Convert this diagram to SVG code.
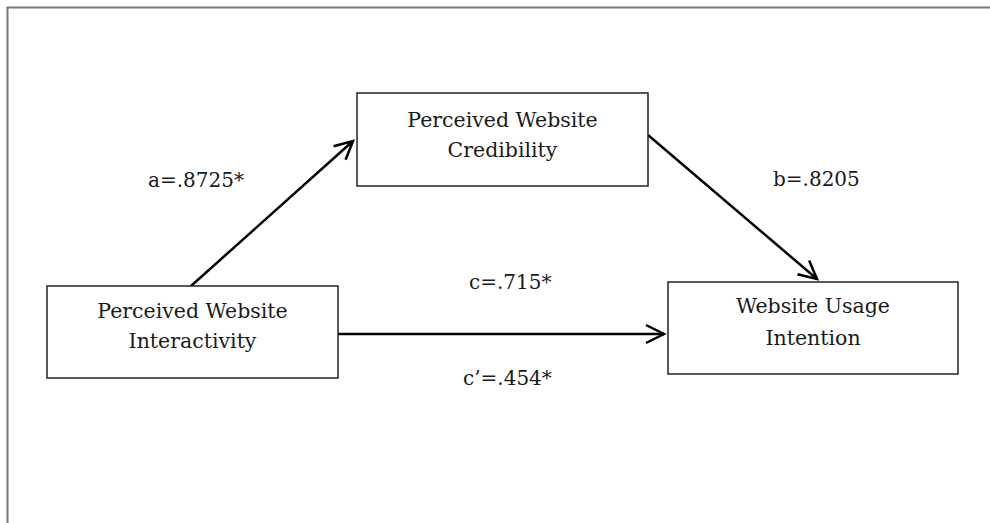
<svg xmlns="http://www.w3.org/2000/svg" width="990" height="523" viewBox="0 0 990 523">
<defs>
<style>
.box{fill:#fff;stroke:#222;stroke-width:1.5}
.t{font-family:"DejaVu Serif","Liberation Serif",serif;font-size:20.5px;fill:#1a1a1a;text-anchor:middle}
.lbl{font-family:"DejaVu Serif","Liberation Serif",serif;font-size:20px;fill:#1a1a1a}
.edge{stroke:#000;stroke-width:2.5;fill:none}
</style>
<marker id="arr" viewBox="-22 -12 26 24" refX="0" refY="0" markerWidth="26" markerHeight="24" markerUnits="userSpaceOnUse" orient="auto">
<path d="M-18,-9 L0,0 L-18,9" fill="none" stroke="#000" stroke-width="2.5" stroke-linejoin="miter"/>
</marker>
</defs>
<rect width="990" height="523" fill="#fff"/>
<path d="M7.5,523 V7.5 H990" fill="none" stroke="#777" stroke-width="2"/>
<g id="connectors">
<path class="edge" d="M191,286 L353,141" marker-end="url(#arr)"/>
<path class="edge" d="M648,135 L817,279" marker-end="url(#arr)"/>
<path class="edge" d="M338,334 L664,334" marker-end="url(#arr)"/>
<text class="lbl" x="148" y="187">a=.8725*</text>
<text class="lbl" x="773" y="186">b=.8205</text>
<text class="lbl" x="469" y="289">c=.715*</text>
<text class="lbl" x="463" y="385">c’=.454*</text>
</g>
<g id="interactivity">
<rect class="box" x="47" y="286" width="291" height="92"/>
<text class="t" x="192.5" y="318">Perceived Website</text>
<text class="t" x="192.5" y="348">Interactivity</text>
</g>
<g id="credibility">
<rect class="box" x="357" y="93" width="291" height="93"/>
<text class="t" x="502.5" y="127">Perceived Website</text>
<text class="t" x="502.5" y="157">Credibility</text>
</g>
<g id="usage">
<rect class="box" x="668" y="282" width="290" height="92"/>
<text class="t" x="813" y="313">Website Usage</text>
<text class="t" x="813" y="345">Intention</text>
</g>
</svg>
